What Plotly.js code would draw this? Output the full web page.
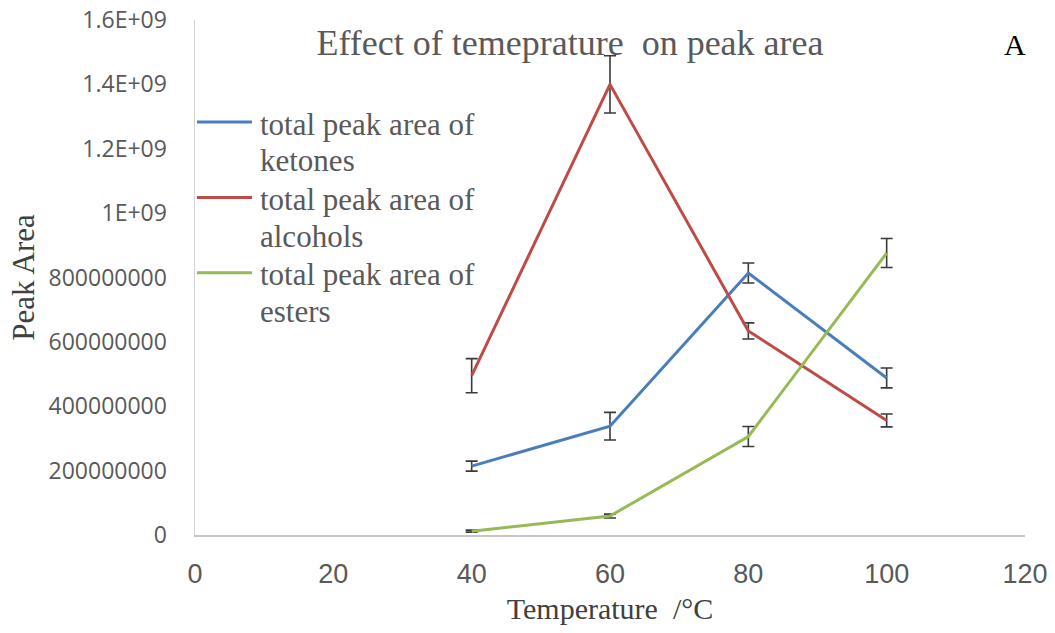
<!DOCTYPE html>
<html>
<head>
<meta charset="utf-8">
<script src="https://cdn.plot.ly/plotly-3.0.1.min.js"></script>
<style>
  html, body { margin: 0; padding: 0; background: #ffffff; }
  #chart { width: 1055px; height: 633px; }
</style>
</head>
<body>
<div id="chart"></div>
<script>
// Extraction temperature (°C)
const temperatures = [40, 60, 80, 100];

// Total peak areas per compound class, with error bar half-widths
const ketones = [2.14e8, 3.38e8, 8.14e8, 4.88e8];
const ketonesErr = [1.55e7, 4.3e7, 3.1e7, 3.1e7];

const alcohols = [4.95e8, 1.40e9, 6.34e8, 3.56e8];
const alcoholsErr = [5.3e7, 8.9e7, 2.5e7, 2.0e7];

const esters = [1.2e7, 5.9e7, 3.06e8, 8.76e8];
const estersErr = [3e6, 6e6, 3.1e7, 4.5e7];

// Legend wording, split over two lines per series
const seriesNames = [
  ['total peak area of', 'ketones'],
  ['total peak area of', 'alcohols'],
  ['total peak area of', 'esters']
];

// Y tick labels as printed on the axis
const yTickVals = [0, 2e8, 4e8, 6e8, 8e8, 1e9, 1.2e9, 1.4e9, 1.6e9];
const yTickText = ['0', '200000000', '400000000', '600000000', '800000000',
                   '1E+09', '1.2E+09', '1.4E+09', '1.6E+09'];
const xTickVals = [0, 20, 40, 60, 80, 100, 120];

const colors = ['#4a7ebb', '#be4b48', '#98b954'];
const serif = 'Liberation Serif, Times New Roman, serif';

function series(y, err, name, color) {
  return {
    x: temperatures,
    y: y,
    name: name.join(' '),
    type: 'scatter',
    mode: 'lines',
    line: { color: color, width: 3 },
    error_y: {
      type: 'data',
      array: err,
      visible: true,
      color: '#3a3a3a',
      thickness: 1.6,
      width: 6
    }
  };
}

const data = [
  series(ketones, ketonesErr, seriesNames[0], colors[0]),
  series(alcohols, alcoholsErr, seriesNames[1], colors[1]),
  series(esters, estersErr, seriesNames[2], colors[2])
];

// Legend block drawn inside the plot area, top-left
const legendX0 = 0.0024, legendX1 = 0.0687, legendTextX = 0.0759;
const legendTopY = 0.802, legendStep = 0.1465, legendLineGap = 0.071;
const shapes = [];
const annotations = [];
seriesNames.forEach(function (lines, i) {
  const yy = legendTopY - i * legendStep;
  shapes.push({
    type: 'line', xref: 'paper', yref: 'paper',
    x0: legendX0, x1: legendX1, y0: yy, y1: yy,
    line: { color: colors[i], width: 3 }
  });
  lines.forEach(function (txt, j) {
    annotations.push({
      text: txt, xref: 'paper', yref: 'paper',
      x: legendTextX, y: yy - 0.004 - j * legendLineGap,
      xanchor: 'left', yanchor: 'middle', showarrow: false,
      font: { family: serif, size: 31, color: '#595959' }
    });
  });
});

annotations.push({
  text: 'A',
  xref: 'paper',
  yref: 'paper',
  x: (1015 - 195) / 830,
  y: (535 - 45) / 515,
  xanchor: 'center',
  yanchor: 'middle',
  showarrow: false,
  font: { family: serif, size: 30, color: '#000000' }
});

const layout = {
  width: 1055,
  height: 633,
  paper_bgcolor: '#ffffff',
  plot_bgcolor: '#ffffff',
  margin: { l: 195, r: 30, t: 20, b: 98 },
  title: {
    text: 'Effect of temeprature\u00a0 on peak area',
    font: { family: serif, size: 36, color: '#595959' },
    x: 570 / 1055,
    xanchor: 'center',
    xref: 'container',
    y: 1 - 42 / 633,
    yanchor: 'middle',
    yref: 'container'
  },
  showlegend: false,
  shapes: shapes,
  annotations: annotations,
  xaxis: {
    range: [0, 120],
    tickvals: xTickVals,
    ticks: '',
    showgrid: false,
    zeroline: false,
    showline: true,
    linecolor: '#c6c6c6',
    linewidth: 1.5,
    ticklabelstandoff: 14,
    tickfont: { family: 'Liberation Sans Narrow, Arial Narrow, sans-serif', size: 27, color: '#595959' },
    title: {
      text: 'Temperature\u00a0 /°C',
      font: { family: serif, size: 30, color: '#404040' },
      standoff: 10
    }
  },
  yaxis: {
    range: [0, 1.6e9],
    tickvals: yTickVals,
    ticktext: yTickText,
    ticks: '',
    showgrid: false,
    zeroline: false,
    showline: true,
    linecolor: '#d4d4d4',
    linewidth: 1.5,
    ticklabelstandoff: 22,
    tickfont: { family: 'Open Sans, sans-serif', size: 23, color: '#595959' },
    title: {
      text: 'Peak Area',
      font: { family: serif, size: 31, color: '#404040' },
      standoff: 4
    }
  }
};

Plotly.newPlot('chart', data, layout, { displayModeBar: false, staticPlot: true });
</script>
</body>
</html>
